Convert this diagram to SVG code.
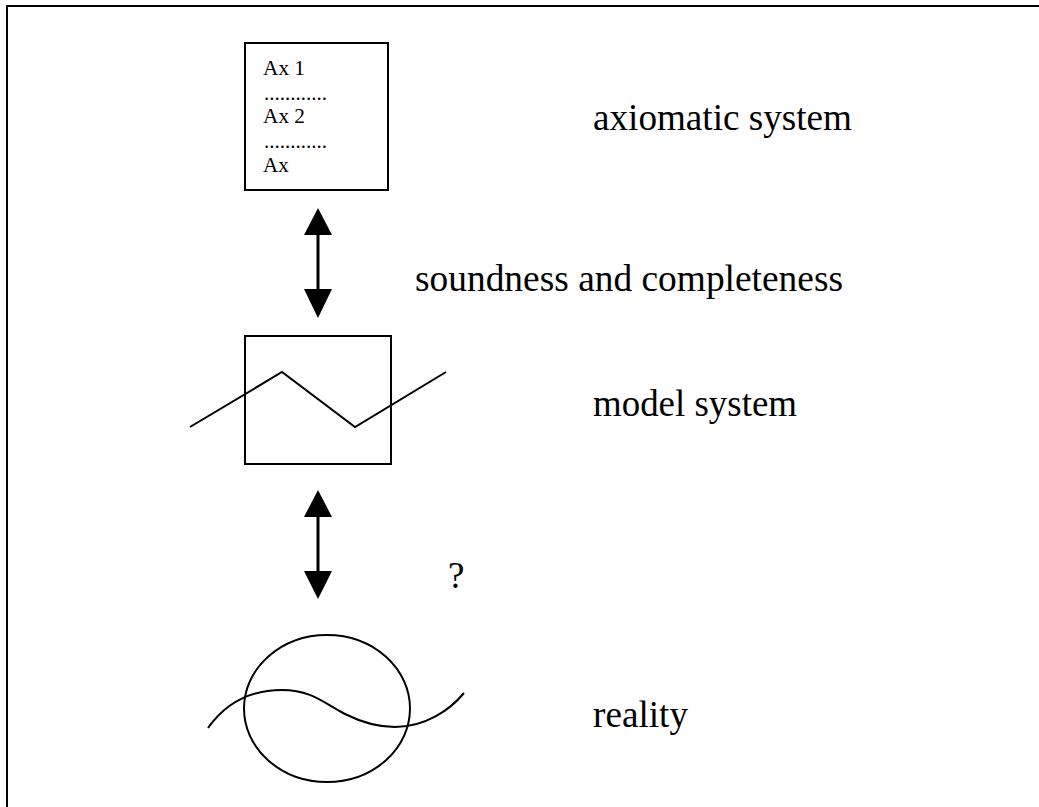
<svg xmlns="http://www.w3.org/2000/svg" width="1039" height="807" viewBox="0 0 1039 807">
  <style>
    .line { fill: none; stroke: #000; stroke-width: 2; }
    .shaft { stroke: #000; stroke-width: 3; }
    .head { fill: #000; }
    .big { font-family: "Liberation Serif", "Times New Roman", serif; font-size: 37px; fill: #000; }
    .small { font-family: "Liberation Serif", "Times New Roman", serif; font-size: 21px; fill: #000; }
  </style>

  <rect x="0" y="0" width="1039" height="807" fill="#fff"/>
  <!-- outer frame, running off the right and bottom edges -->
  <rect class="line" x="7" y="6" width="1045" height="815"/>

  <!-- axiomatic system box -->
  <g id="axioms">
    <rect class="line" x="245" y="43" width="143" height="147"/>
    <text class="small" x="263" y="75" textLength="42" lengthAdjust="spacingAndGlyphs">Ax 1</text>
    <text class="small" x="264" y="100" textLength="63" lengthAdjust="spacingAndGlyphs">............</text>
    <text class="small" x="263" y="123" textLength="42" lengthAdjust="spacingAndGlyphs">Ax 2</text>
    <text class="small" x="264" y="148" textLength="63" lengthAdjust="spacingAndGlyphs">............</text>
    <text class="small" x="263" y="172">Ax</text>
  </g>

  <!-- model system: box crossed by a zigzag -->
  <g id="model">
    <rect class="line" x="245" y="336" width="146" height="128"/>
    <polyline class="line" points="190,427 282,372 355,427 446,372"/>
  </g>

  <!-- reality: ellipse crossed by a wave -->
  <g id="reality">
    <ellipse class="line" cx="327" cy="708.5" rx="83" ry="73.5"/>
    <path class="line" d="M208,728 C228,700 255,690 282,690 C312,690 325,704 345,714 C365,724 380,727 395,727 C425,727 450,710 464,693"/>
  </g>

  <!-- double-headed connectors -->
  <g id="connectors">
    <line class="shaft" x1="318" y1="232" x2="318" y2="292"/>
    <polygon class="head" points="318,208 304,235 332,235"/>
    <polygon class="head" points="318,318 304,289 332,289"/>
    <line class="shaft" x1="318" y1="514" x2="318" y2="574"/>
    <polygon class="head" points="318,490 304,517 332,517"/>
    <polygon class="head" points="318,599 304,571 332,571"/>
  </g>

  <!-- labels -->
  <g id="labels">
    <text class="big" x="593" y="130" textLength="259" lengthAdjust="spacingAndGlyphs">axiomatic system</text>
    <text class="big" x="415" y="291" textLength="428" lengthAdjust="spacingAndGlyphs">soundness and completeness</text>
    <text class="big" x="593" y="416" textLength="204" lengthAdjust="spacingAndGlyphs">model system</text>
    <text class="big" x="448" y="588">?</text>
    <text class="big" x="593" y="727" textLength="95" lengthAdjust="spacingAndGlyphs">reality</text>
  </g>
</svg>
